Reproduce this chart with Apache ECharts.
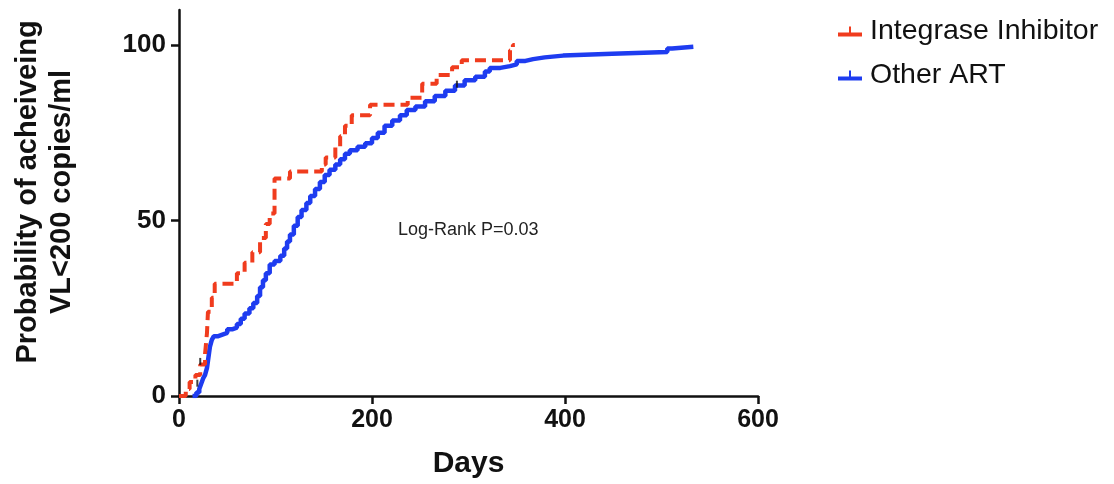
<!DOCTYPE html>
<html>
<head>
<meta charset="utf-8">
<script src="https://cdn.jsdelivr.net/npm/echarts@6/dist/echarts.min.js"></script>
<style>
html,body{margin:0;padding:0;background:#fff;}
#c{width:1114px;height:484px;}
</style>
</head>
<body>
<div id="c"></div>
<script>
// ---- data ----
const seriesNames = ['Integrase Inhibitor', 'Other ART'];
const xTicks = [0, 200, 400, 600];
const yTicks = [0, 50, 100];

const redDays = [0, 7, 11, 17, 22, 27, 29, 30, 34, 37, 60, 68, 76, 84, 90, 94, 99, 115, 148, 152, 162, 167, 172, 179, 198, 237, 252, 267, 283, 293, 343, 346, 348];
const redPct  = [0, 2, 4, 6, 9, 12, 18, 24, 28, 32, 35, 38, 41, 45, 49, 52, 62, 64, 66, 68, 71, 74, 77, 80, 83, 85, 89, 91.5, 93.7, 95.7, 98.5, 100, 100];

const blueDays = [14, 18, 21, 23, 25, 27, 29, 30, 31, 32, 34, 36, 40, 45, 50, 55, 60, 64, 68, 73, 77, 81, 84, 87, 90, 94, 99, 105, 109, 112, 115, 119, 123, 127, 132, 136, 141, 146, 151, 156, 162, 167, 172, 177, 185, 193, 200, 206, 213, 221, 229, 236, 245, 255, 265, 276, 286, 296, 307, 317, 322, 333, 343, 350, 359, 367, 379, 398, 449, 506, 511, 533];
const bluePct  = [0, 1, 2, 3.5, 5, 6, 8, 10, 12, 14, 16, 17, 17.5, 18, 19, 19.5, 20.5, 22, 23.5, 25, 26.5, 28.5, 31, 33, 35, 37.5, 38.5, 40, 42, 44, 46, 48.5, 51, 53, 55, 57, 59, 61, 63, 64.5, 66, 67.5, 69, 70, 71, 72, 73.5, 75, 77, 78.5, 80, 81.5, 82.5, 84, 85.5, 87, 88.5, 90, 91, 92.5, 93.5, 94, 94.5, 95.5, 96, 96.5, 97, 97.5, 98, 99, 99.5, 99.5];

const censorDays = [22, 19, 288];
const censorPct  = [9, 2.8, 88];

const annotation = 'Log-Rank P=0.03';

// ---- build ----
const zip = (a, b) => a.map((v, i) => [v, b[i]]);
const red = '#F03C1E';
const blue = '#1E3CF0';
const legendIcon = 'path://M0,8 L24,8 L24,12 L0,12 Z M11,2 L13,2 L13,8 L11,8 Z';
const FONT = '"Liberation Sans", Arial, Helvetica, sans-serif';

const chart = echarts.init(document.getElementById('c'), null, {renderer: 'canvas'});
chart.setOption({
  backgroundColor: '#fff',
  animation: false,
  grid: {left: 179, right: 356, top: 10, bottom: 87, containLabel: false},
  legend: {
    orient: 'vertical',
    left: 833, top: 12,
    itemWidth: 24, itemHeight: 12, itemGap: 15,
    textStyle: {fontFamily: FONT, fontSize: 28.5, color: '#111', padding: [0, 0, 0, 3]},
    data: [
      {name: seriesNames[0], icon: legendIcon, itemStyle: {color: red}},
      {name: seriesNames[1], icon: legendIcon, itemStyle: {color: blue}}
    ]
  },
  xAxis: {
    type: 'value', min: 0, max: 600, interval: 200,
    name: 'Days', nameLocation: 'middle', nameGap: 53,
    nameTextStyle: {fontFamily: FONT, fontSize: 30, fontWeight: 'bold', color: '#111'},
    axisLine: {show: true, onZero: false, lineStyle: {color: '#111', width: 2.5}},
    axisTick: {show: true, length: 8, lineStyle: {color: '#111', width: 2.5}},
    axisLabel: {fontFamily: FONT, fontSize: 25, fontWeight: 'bold', color: '#111', margin: 12,
      customValues: xTicks},
    splitLine: {show: false}
  },
  yAxis: {
    type: 'value', min: 0, max: 110,
    name: 'Probability of acheiveing\nVL<200 copies/ml', nameLocation: 'middle', nameGap: 100,
    nameTextStyle: {fontFamily: FONT, fontSize: 29, fontWeight: 'bold', color: '#111', lineHeight: 34, padding: [0, 0, 0, 22]},
    axisLine: {show: true, onZero: false, lineStyle: {color: '#111', width: 2.5}},
    axisTick: {show: true, length: 8, lineStyle: {color: '#111', width: 2.5}, customValues: yTicks},
    axisLabel: {fontFamily: FONT, fontSize: 26, fontWeight: 'bold', color: '#111', margin: 13,
      customValues: yTicks},
    splitLine: {show: false}
  },
  graphic: [{
    type: 'text', left: 398, top: 221,
    style: {text: annotation, font: '18px ' + FONT, fill: '#222'}
  }],
  series: [
    {
      name: seriesNames[0], type: 'line', step: 'end', data: zip(redDays, redPct),
      showSymbol: false, symbol: 'none', color: red,
      lineStyle: {color: red, width: 4, type: [11, 6], cap: 'butt'}, z: 3
    },
    {
      name: seriesNames[1], type: 'line', step: 'end', data: zip(blueDays, bluePct),
      showSymbol: false, symbol: 'none', color: blue,
      lineStyle: {color: blue, width: 4.5}, z: 2
    },
    {
      name: 'censored', type: 'scatter', data: zip(censorDays, censorPct),
      symbol: 'rect', symbolSize: [2, 7], symbolOffset: [0, -3],
      itemStyle: {color: '#111'}, z: 4, silent: true
    }
  ]
});
</script>
</body>
</html>
